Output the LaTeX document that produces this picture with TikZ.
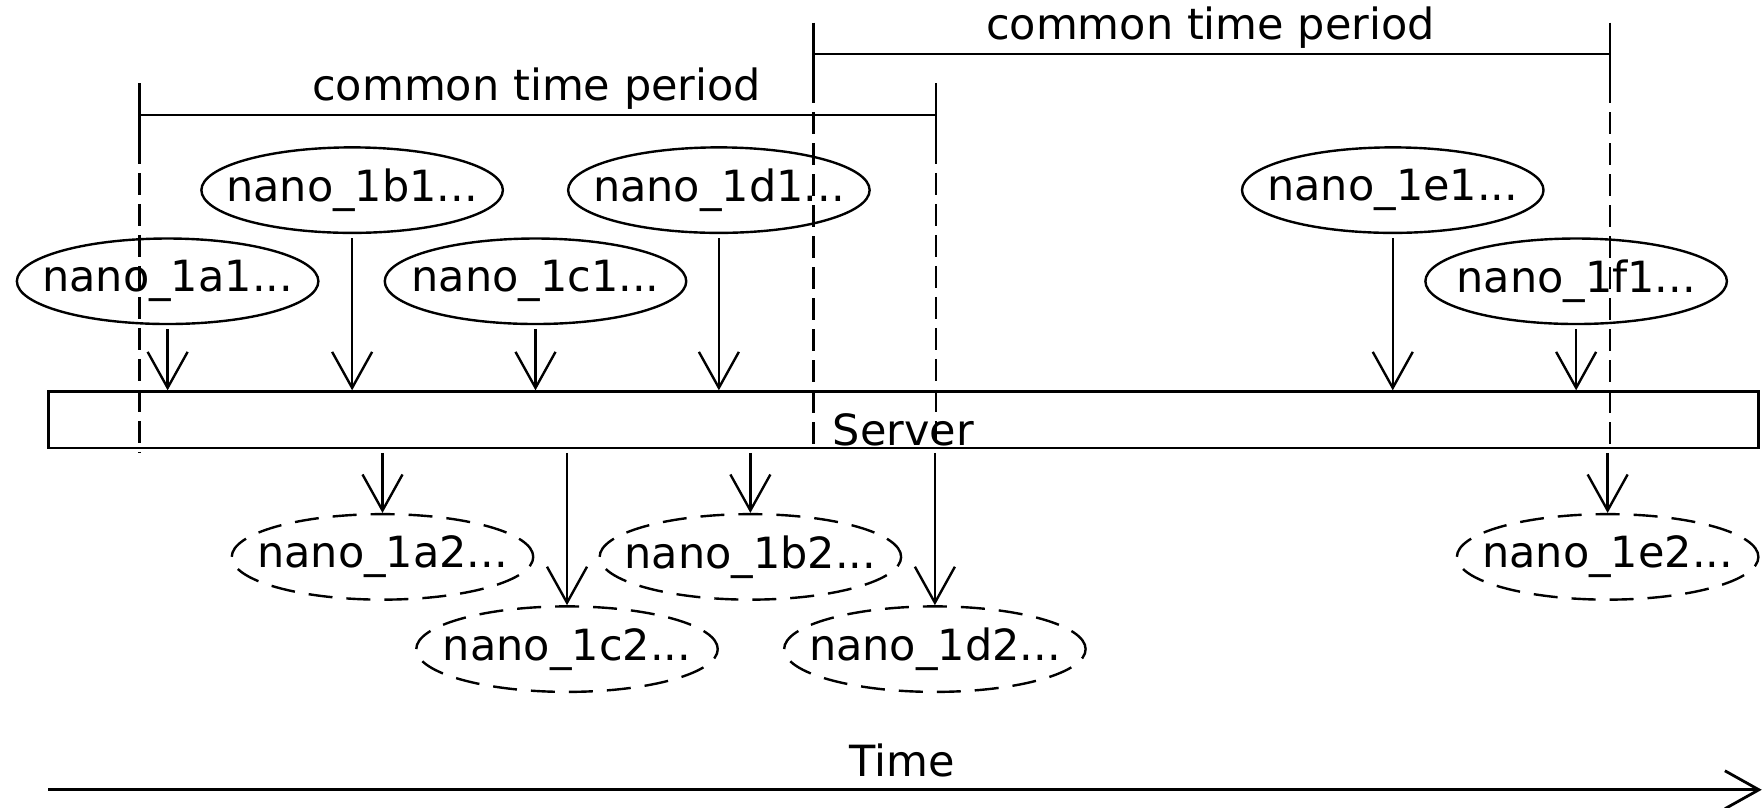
\documentclass[tikz,border=0pt]{standalone}
\usepackage{fontspec}
\setmainfont{DejaVu Sans}
\usetikzlibrary{arrows.meta,shapes.geometric}
\begin{document}
\begin{tikzpicture}[x=0.5625pt,y=-0.5625pt,
  line width=1.2pt,
  txt/.style={font=\fontsize{21.5}{24}\selectfont, inner sep=0pt},
  blob/.style={txt,draw,ellipse,minimum width=150.75pt,minimum height=42.75pt,
    inner xsep=-12pt,inner ysep=0pt},
  ghost/.style={blob,dash pattern=on 12pt off 7pt},
  feed/.style={-{Straight Barb[length=18pt,width=20pt]},shorten <=2pt},
  guide/.style={dash pattern=on 11pt off 4.5pt},
]
\useasboundingbox (0,0) rectangle (1568,718);

% server bar
\node[draw,minimum width=855pt,minimum height=28.1pt,inner sep=0pt] (srv) at (803,373) {};
\node[txt] (srvlbl) at (803,382) {Server};

% sending nodes
\node[blob] (a1) at (149,250) {nano\_1a1...};
\node[blob] (b1) at (313,169) {nano\_1b1...};
\node[blob] (c1) at (476,250) {nano\_1c1...};
\node[blob] (d1) at (639,169) {nano\_1d1...};
\node[blob] (e1) at (1238,169) {nano\_1e1...};
\node[blob] (f1) at (1401,250) {nano\_1f1...};

% receiving nodes
\node[ghost] (a2) at (340,495) {nano\_1a2...};
\node[ghost] (b2) at (667,495) {nano\_1b2...};
\node[ghost] (c2) at (504,577) {nano\_1c2...};
\node[ghost] (d2) at (831,577) {nano\_1d2...};
\node[ghost] (e2) at (1429,495) {nano\_1e2...};

% uploads to the server
\foreach \n in {a1,c1,f1,b1,d1,e1}
  \draw[feed] (\n.south) -- (\n.south |- srv.north);

% downloads from the server
\foreach \n in {a2,b2,c2,d2,e2}
  \draw[feed] (\n.north |- srv.south) -- (\n.north);

% common time periods
\coordinate (pL1) at (124,102);
\coordinate (pL2) at (832,102);
\coordinate (pR1) at (723,48);
\coordinate (pR2) at (1431,48);

\draw (pL1) -- (pL2);
\draw (pR1) -- (pR2);
\foreach \p in {pL1,pL2,pR1,pR2}
  \draw (\p) ++(0,-28) -- ++(0,54);

\draw[guide] (124,126) -- (124,402);
\draw[guide] (832,126) -- (832,398);
\draw[guide] (723,72) -- (723,398);
\draw[guide] (1431,72) -- (1431,398);

\node[txt,anchor=base] (tL) at (477,89) {common time period};
\node[txt,anchor=base] (tR) at (1076,35) {common time period};

% time axis
\coordinate (t0) at (43,702);
\coordinate (t1) at (1566,702);
\draw[line width=1.4pt,-{Straight Barb[length=17pt,width=19pt]}] (t0) -- (t1);
\node[txt] (tm) at (802,676) {Time};
\end{tikzpicture}
\end{document}
